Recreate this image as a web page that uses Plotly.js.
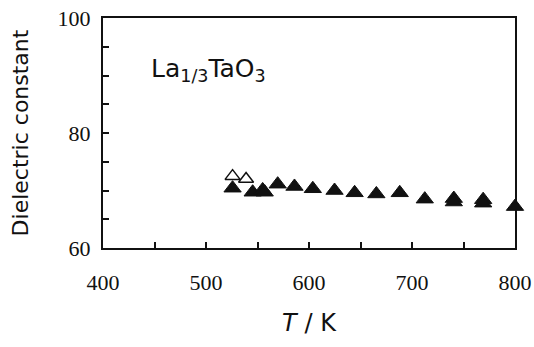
<!DOCTYPE html>
<html><head><meta charset="utf-8">
<script src="https://cdn.plot.ly/plotly-3.0.1.min.js"></script>
<style>body{margin:0;background:#fff}#c{width:534px;height:347px}</style>
</head><body><div id="c"></div>
<script>
const filledT = [525.8, 545.3, 555.0, 557.0, 569.6, 585.9, 603.7, 624.8, 644.3, 665.4, 688.1, 712.4, 740.6, 740.6, 769.1, 769.1, 800.0];
const filledE = [70.4, 69.7, 70.1, 69.7, 71.1, 70.7, 70.3, 70.0, 69.6, 69.4, 69.6, 68.5, 68.6, 68.0, 68.4, 67.8, 67.2];
const openT = [525.8, 538.9];
const openE = [72.5, 72.0];
const xTicks = [400, 500, 600, 700, 800];
const yTicks = [60, 80, 100];
const sample = 'La<sub>1/3</sub>TaO<sub>3</sub>';

const tickFont = {family: 'Liberation Serif, DejaVu Serif, serif', size: 22, color: '#111'};
const titleFont = {family: 'DejaVu Sans, Lato, sans-serif', size: 22, color: '#111'};

Plotly.newPlot('c', [
  {x: filledT, y: filledE, mode: 'markers', type: 'scatter',
   marker: {symbol: 'triangle-up', size: 15, color: '#111', line: {color: '#111', width: 1}}, cliponaxis: false},
  {x: openT, y: openE, mode: 'markers', type: 'scatter',
   marker: {symbol: 'triangle-up-open', size: 13, color: '#111', line: {color: '#111', width: 1.5}}, cliponaxis: false}
], {
  width: 534, height: 347,
  margin: {l: 103, r: 19, t: 18, b: 99},
  showlegend: false,
  paper_bgcolor: '#fff', plot_bgcolor: '#fff',
  xaxis: {range: [400, 800], tickvals: xTicks, ticktext: xTicks.map(String),
    ticks: '', showgrid: false, zeroline: false, showline: true, linecolor: '#111', linewidth: 2,
    mirror: true, tickfont: tickFont, ticklabelstandoff: 14,
    minor: {tickvals: [450, 500, 550, 600, 650, 700, 750], ticks: 'inside', ticklen: 6, tickwidth: 2, tickcolor: '#111', showgrid: false},
    title: {text: '<i>T</i> / K', font: {family: 'DejaVu Sans, Lato, sans-serif', size: 24, color: '#111'}, standoff: 20}},
  yaxis: {range: [60, 100], tickvals: yTicks, ticktext: yTicks.map(String),
    ticks: '', showgrid: false, zeroline: false, showline: true, linecolor: '#111', linewidth: 2,
    mirror: true, tickfont: tickFont, ticklabelstandoff: 6,
    minor: {tickvals: [65, 70, 75, 80, 85, 90, 95], ticks: 'inside', ticklen: 6, tickwidth: 2, tickcolor: '#111', showgrid: false},
    title: {text: 'Dielectric constant', font: titleFont, standoff: 23}},
  annotations: [{x: 445, y: 91, xref: 'x', yref: 'y', xanchor: 'left', yanchor: 'middle',
    text: sample, showarrow: false, font: {family: 'DejaVu Sans, Lato, sans-serif', size: 25, color: '#111'}}]
}, {displayModeBar: false, staticPlot: true});
</script></body></html>
